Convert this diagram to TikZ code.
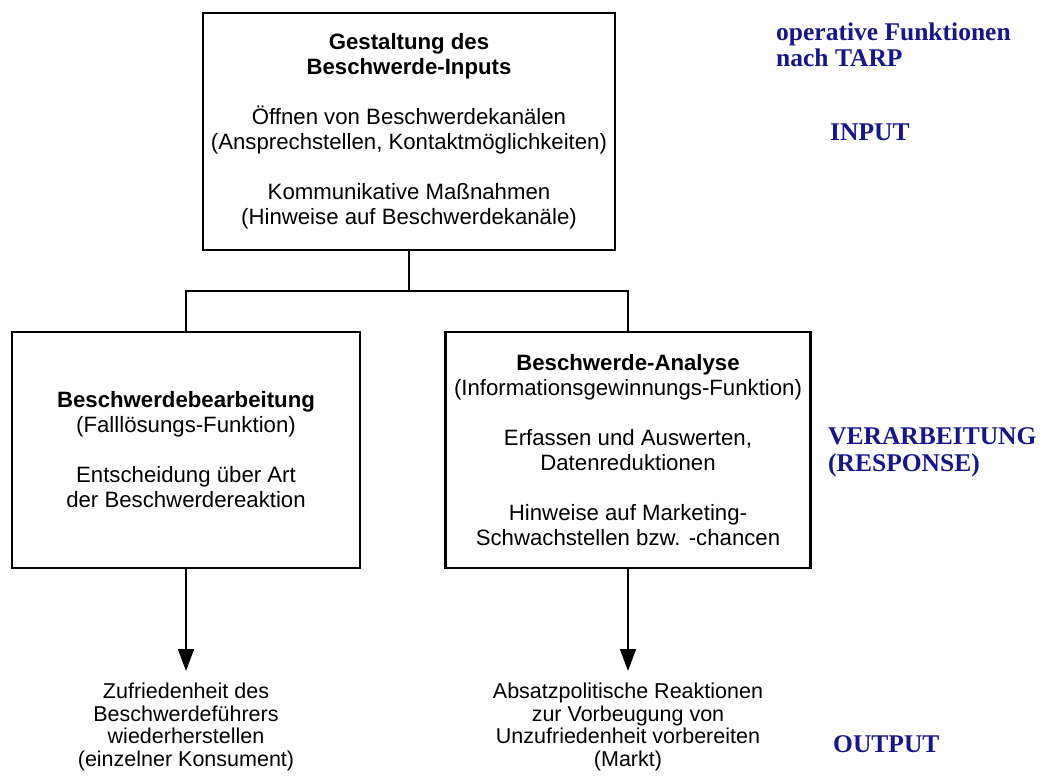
\documentclass[tikz,border=0pt]{standalone}
\usepackage{fontspec}
\setmainfont{Liberation Sans}
\newfontfamily\labelfont{Liberation Serif}
\usetikzlibrary{arrows.meta}
\definecolor{tarpblue}{RGB}{22,22,140}
\begin{document}
\begin{tikzpicture}[x=1pt,y=-1pt,
  box/.style={draw=black, line width=2.2pt, rectangle, align=center,
    font=\fontsize{22.2}{25}\selectfont, inner sep=0pt},
  outtext/.style={align=center, font=\fontsize{21.5}{22.5}\selectfont,
    anchor=north, inner xsep=0pt, inner ysep=12pt},
  tarp/.style={anchor=base west, inner sep=0pt, text=tarpblue,
    font=\labelfont\bfseries\fontsize{25.5}{27}\selectfont},
  link/.style={line width=2.2pt, line join=miter},
  flow/.style={line width=1.3pt, -{Triangle[width=16pt,length=22pt]}}]
\useasboundingbox (0,0) rectangle (1045,778);

% the three function boxes
\node[box, minimum width=412pt, minimum height=237pt] (input) at (409,131.5)
  {\textbf{Gestaltung des}\\\textbf{Beschwerde-Inputs}\\[25pt]
   Öffnen von Beschwerdekanälen\\(Ansprechstellen, Kontaktmöglichkeiten)\\[25pt]
   Kommunikative Maßnahmen\\(Hinweise auf Beschwerdekanäle)};
\node[box, minimum width=348pt, minimum height=236pt] (handling) at (186,450)
  {\textbf{Beschwerdebearbeitung}\\(Falllösungs-Funktion)\\[25pt]
   Entscheidung über Art\\der Beschwerdereaktion};
\node[box, minimum width=365pt, minimum height=236pt] (analysis) at (628,450)
  {\textbf{Beschwerde-Analyse}\\(Informationsgewinnungs-Funktion)\\[25pt]
   Erfassen und Auswerten,\\Datenreduktionen\\[25pt]
   Hinweise auf Marketing-\\Schwachstellen bzw. -chancen};

% results
\node[outtext] (consumer) at (186,671)
  {Zufriedenheit des\\Beschwerdeführers\\wiederherstellen\\(einzelner Konsument)};
\node[outtext] (market) at (628,671)
  {Absatzpolitische Reaktionen\\zur Vorbeugung von\\Unzufriedenheit vorbereiten\\(Markt)};

% tree connector
\coordinate (split) at (409,291);
\draw[link] (input.south) -- (split);
\draw[link] (handling.north) |- (analysis.north |- split) -- (analysis.north);

% output arrows
\draw[flow] (handling.south) -- (consumer.north);
\draw[flow] (analysis.south) -- (market.north);

% TARP stage labels
\node[tarp] (tarpA) at (776,41) {operative Funktionen};
\node[tarp] (tarpB) at (776,67) {nach TARP};
\node[tarp] (stageIn) at (830,141) {INPUT};
\node[tarp] (stageProcA) at (828,444) {VERARBEITUNG};
\node[tarp] (stageProcB) at (828,471) {(RESPONSE)};
\node[tarp] (stageOut) at (833,752) {OUTPUT};
\end{tikzpicture}
\end{document}
